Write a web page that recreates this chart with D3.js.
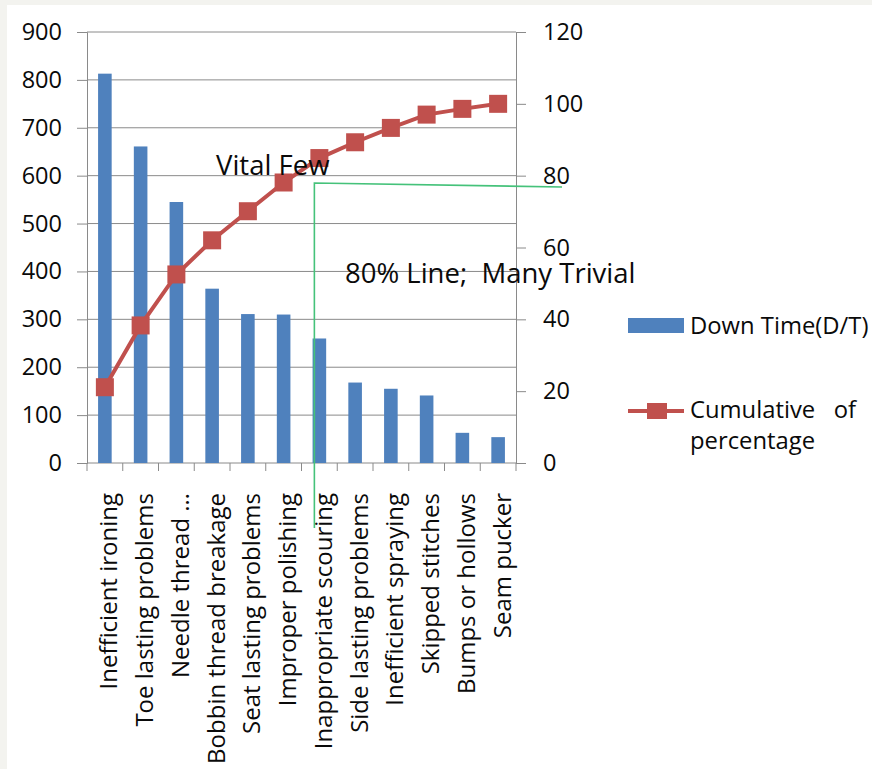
<!DOCTYPE html>
<html>
<head>
<meta charset="utf-8">
<script src="https://cdn.jsdelivr.net/npm/d3@7"></script>
<style>
  html, body { margin: 0; padding: 0; background: #f3f3ef; }
  svg { display: block; }
  text { font-family: "Open Sans", Lato, sans-serif; fill: #0a0a0a; white-space: pre; }
</style>
</head>
<body>
<svg id="chart" width="872" height="769"></svg>
<script>
// ---- data ----
const categories = [
  "Inefficient ironing", "Toe lasting problems", "Needle thread …",
  "Bobbin thread breakage", "Seat lasting problems", "Improper polishing",
  "Inappropriate scouring", "Side lasting problems", "Inefficient spraying",
  "Skipped stitches", "Bumps or hollows", "Seam pucker"
];
const downTime = [813, 661, 545, 364, 311, 310, 260, 168, 155, 141, 63, 54];
const cumulativePct = [21.1, 38.3, 52.5, 62.0, 70.1, 78.1, 84.9, 89.3, 93.3, 97.0, 98.6, 100];
const leftTicks = [0, 100, 200, 300, 400, 500, 600, 700, 800, 900];
const rightTicks = [0, 20, 40, 60, 80, 100, 120];
const seriesNames = ["Down Time(D/T)", "Cumulative   of", "percentage"];
const annotations = ["Vital Few", "80% Line;  Many Trivial"];

// ---- layout ----
const svg = d3.select("#chart");
const W = 872, H = 769;
const plot = { left: 87, right: 516, top: 32, bottom: 463 };
const gridColor = "#8a8a8a";
const barColor = "#4f81bd";
const lineColor = "#c0504d";
const greenColor = "#45c27a";
const FONT = "\"Open Sans\", Lato, sans-serif";

svg.append("rect").attr("x", 7).attr("y", 5).attr("width", W - 7).attr("height", H - 5).attr("fill", "#ffffff");

const x = d3.scaleBand().domain(categories).range([plot.left, plot.right])
  .paddingInner(0.62).paddingOuter(0.31);
const yL = d3.scaleLinear().domain([0, 900]).range([plot.bottom, plot.top]);
const yR = d3.scaleLinear().domain([0, 120]).range([plot.bottom, plot.top]);

// gridlines
svg.append("g").selectAll("line").data(leftTicks).join("line")
  .attr("x1", plot.left).attr("x2", plot.right)
  .attr("y1", d => yL(d)).attr("y2", d => yL(d))
  .attr("stroke", gridColor).attr("stroke-width", 1);

// left axis
const gL = svg.append("g").attr("transform", `translate(${plot.left},0)`)
  .call(d3.axisLeft(yL).tickValues(leftTicks).tickSize(10).tickPadding(15));
gL.selectAll("path.domain").attr("stroke", gridColor);
gL.selectAll(".tick line").attr("stroke", gridColor);
gL.selectAll(".tick text").attr("font-size", 23.5).attr("font-family", FONT).attr("fill", "#0a0a0a");

// right axis
const gR = svg.append("g").attr("transform", `translate(${plot.right},0)`)
  .call(d3.axisRight(yR).tickValues(rightTicks).tickSize(10).tickPadding(17));
gR.selectAll("path.domain").attr("stroke", gridColor);
gR.selectAll(".tick line").attr("stroke", gridColor);
gR.selectAll(".tick text").attr("font-size", 23.5).attr("font-family", FONT).attr("fill", "#0a0a0a");

// bottom ticks at band boundaries
const step = x.step();
const x0 = plot.left;
svg.append("g").selectAll("line").data(d3.range(categories.length + 1)).join("line")
  .attr("x1", i => x0 + i * step).attr("x2", i => x0 + i * step)
  .attr("y1", plot.bottom).attr("y2", plot.bottom + 8)
  .attr("stroke", gridColor);

// bars
svg.append("g").selectAll("rect").data(downTime).join("rect")
  .attr("x", (d, i) => x(categories[i]))
  .attr("width", x.bandwidth())
  .attr("y", d => yL(d))
  .attr("height", d => plot.bottom - yL(d))
  .attr("fill", barColor);

// category labels
svg.append("g").selectAll("text").data(categories).join("text")
  .attr("transform", d => `translate(${x(d) + x.bandwidth() / 2 + 4},493) rotate(-90)`)
  .attr("text-anchor", "end")
  .attr("dy", "0.35em")
  .attr("font-size", 24)
  .text(d => d);

// cumulative line
const cx = i => x(categories[i]) + x.bandwidth() / 2;
const line = d3.line().x((d, i) => cx(i)).y(d => yR(d));
svg.append("path").datum(cumulativePct)
  .attr("d", line).attr("fill", "none")
  .attr("stroke", lineColor).attr("stroke-width", 4);
svg.append("g").selectAll("rect").data(cumulativePct).join("rect")
  .attr("x", (d, i) => cx(i) - 9).attr("y", d => yR(d) - 9)
  .attr("width", 18).attr("height", 18)
  .attr("fill", lineColor);

// annotations
svg.append("text").attr("x", 216).attr("y", 175).attr("font-size", 27.5).text(annotations[0]);
svg.append("text").attr("x", 345).attr("y", 283).attr("font-size", 27.5).text(annotations[1]);

// green 80% line
svg.append("path")
  .attr("d", `M${cx(6) - 5},528 L${cx(6) - 5},183 L562,187`)
  .attr("fill", "none").attr("stroke", greenColor).attr("stroke-width", 1.6);

// legend
svg.append("rect").attr("x", 628).attr("y", 318).attr("width", 56).attr("height", 15).attr("fill", barColor);
svg.append("text").attr("x", 690).attr("y", 334).attr("font-size", 23.8).text(seriesNames[0]);
svg.append("line").attr("x1", 628).attr("x2", 684).attr("y1", 411).attr("y2", 411)
  .attr("stroke", lineColor).attr("stroke-width", 4);
svg.append("rect").attr("x", 647).attr("y", 403).attr("width", 20).attr("height", 16).attr("fill", lineColor);
svg.append("text").attr("x", 690).attr("y", 418).attr("font-size", 23.8).text(seriesNames[1]);
svg.append("text").attr("x", 690).attr("y", 449).attr("font-size", 23.8).text(seriesNames[2]);
</script>
</body>
</html>
